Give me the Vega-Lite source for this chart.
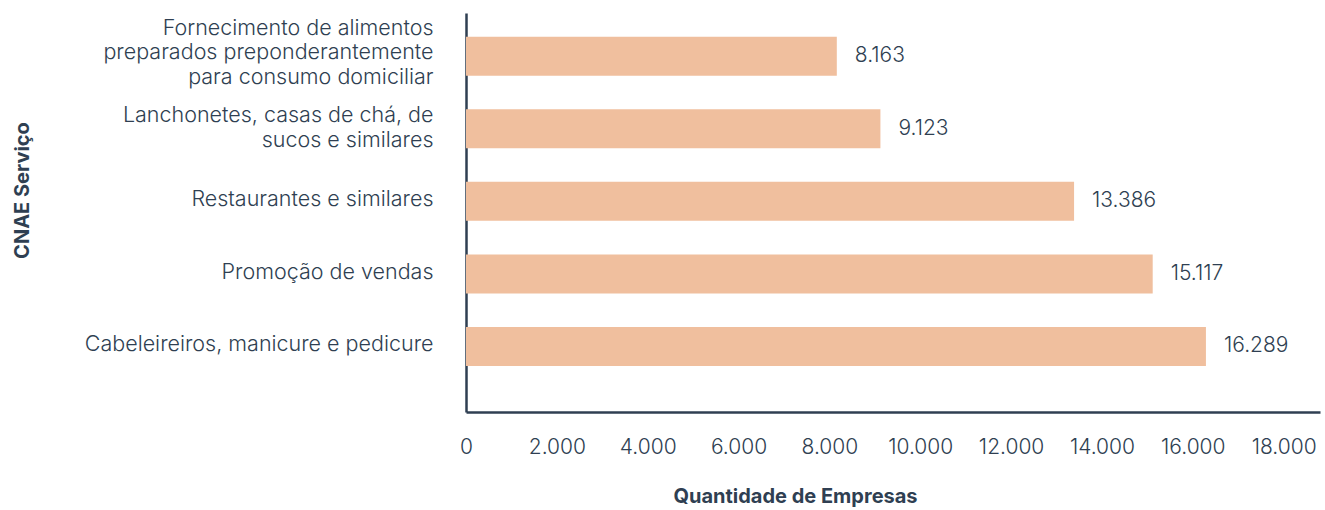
{
  "$schema": "https://vega.github.io/schema/vega-lite/v6.json",
  "width": 854,
  "height": 399,
  "autosize": {"type": "none"},
  "padding": {"left": 466, "top": 13, "right": 5, "bottom": 98},
  "background": "white",
  "config": {
    "view": {"stroke": null},
    "font": "Inter",
    "locale": {"number": {"decimal": ",", "thousands": ".", "grouping": [3], "currency": ["R$", ""]}}
  },
  "data": {
    "values": [
      {"servico": "Fornecimento de alimentos\npreparados preponderantemente\npara consumo domiciliar", "empresas": 8163},
      {"servico": "Lanchonetes, casas de chá, de\nsucos e similares", "empresas": 9123},
      {"servico": "Restaurantes e similares", "empresas": 13386},
      {"servico": "Promoção de vendas", "empresas": 15117},
      {"servico": "Cabeleireiros, manicure e pedicure", "empresas": 16289}
    ]
  },
  "encoding": {
    "y": {
      "field": "servico",
      "type": "nominal",
      "sort": null,
      "scale": {"paddingInner": 0.462, "paddingOuter": 0.48, "align": 0.34},
      "axis": {
        "title": "CNAE Serviço",
        "titleFontSize": 20,
        "titleFontWeight": "bold",
        "titleColor": "#2f3f52",
        "titleX": -444,
        "titleY": 177,
        "titleAngle": -90,
        "titleAlign": "center",
        "titleBaseline": "middle",
        "labelExpr": "split(datum.label, '\\n')",
        "labelFontSize": 21.5,
        "labelFontWeight": 300,
        "labelLineHeight": 24.5,
        "labelBaseline": "middle",
        "labelOffset": {
          "condition": [
            {"test": "indexof(datum.value, 'Fornecimento') >= 0", "value": -27.5},
            {"test": "indexof(datum.value, 'Lanchonetes') >= 0", "value": -12.5}
          ],
          "value": -1
        },
        "labelColor": "#2f3f52",
        "labelPadding": 33,
        "labelLimit": 500,
        "ticks": false,
        "domainColor": "#2f3f52",
        "domainWidth": 2.5,
        "grid": false
      }
    }
  },
  "layer": [
    {
      "mark": {"type": "bar", "color": "#F0BF9E"},
      "encoding": {
        "x": {
          "field": "empresas",
          "type": "quantitative",
          "scale": {"domain": [0, 18800], "nice": false},
          "axis": {
            "values": [0, 2000, 4000, 6000, 8000, 10000, 12000, 14000, 16000, 18000],
            "format": ",d",
            "title": "Quantidade de Empresas",
            "titleFontSize": 20,
            "titleFontWeight": "bold",
            "titleColor": "#2f3f52",
            "titleX": 329,
            "titleY": 84,
            "titleAlign": "center",
            "titleBaseline": "middle",
            "labelFontSize": 21,
            "labelFontWeight": 300,
            "labelColor": "#2f3f52",
            "labelPadding": 24,
            "labelFlush": false,
            "ticks": false,
            "grid": false,
            "domainColor": "#2f3f52",
            "domainWidth": 2.5
          }
        }
      }
    },
    {
      "mark": {"type": "text", "align": "left", "baseline": "middle", "dx": 18, "fontSize": 21, "fontWeight": 300, "color": "#2f3f52"},
      "encoding": {
        "x": {"field": "empresas", "type": "quantitative"},
        "text": {"field": "empresas", "type": "quantitative", "format": ",d"}
      }
    }
  ]
}
